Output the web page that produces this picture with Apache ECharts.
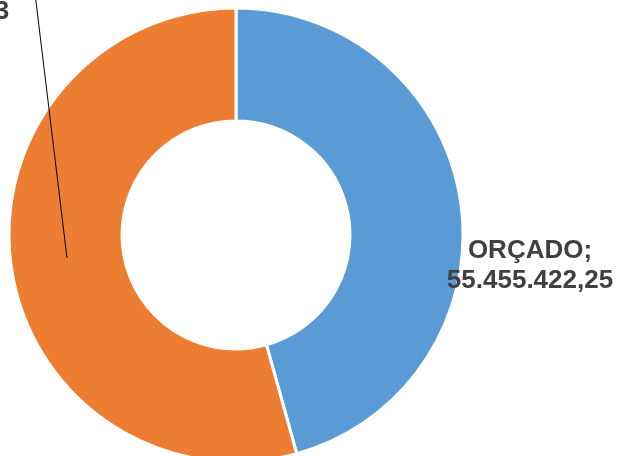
<!DOCTYPE html>
<html>
<head>
<meta charset="utf-8">
<script src="https://cdn.jsdelivr.net/npm/echarts@6/dist/echarts.min.js"></script>
<style>
html,body{margin:0;padding:0;background:#fff;}
#chart{width:619px;height:456px;}
</style>
</head>
<body>
<div id="chart"></div>
<script>
const categories = ['ORÇADO', 'REALIZADO'];
const values = [55455422.25, 65914706.43];
const colors = ['#5B9BD5', '#ED7D31'];

function fmtBR(v) {
  const parts = v.toFixed(2).split('.');
  const intPart = parts[0].replace(/\B(?=(\d{3})+(?!\d))/g, '.');
  return intPart + ',' + parts[1];
}

const labelStyle = {
  show: true,
  position: 'outside',
  formatter: p => p.name + ';\n' + fmtBR(p.value),
  fontFamily: 'Liberation Sans, Arial, sans-serif',
  fontWeight: 'bold',
  fontSize: 26,
  lineHeight: 30,
  color: '#404040',
  align: 'center'
};

const chart = echarts.init(document.getElementById('chart'), null, {renderer: 'canvas'});
chart.setOption({
  animation: false,
  backgroundColor: '#ffffff',
  series: [{
    type: 'pie',
    z: 2,
    center: [236, 235],
    radius: [114, 227],
    startAngle: 90,
    clockwise: true,
    avoidLabelOverlap: false,
    emphasis: {disabled: true},
    itemStyle: {borderColor: '#ffffff', borderWidth: 3},
    label: labelStyle,
    labelLine: {show: false},
    labelLayout: function () {
      return {x: 530, y: 266, align: 'center', verticalAlign: 'middle'};
    },
    data: categories.map((c, i) => ({
      name: c,
      value: values[i],
      itemStyle: {color: colors[i]},
      label: {show: i === 0}
    }))
  }, {
    type: 'pie',
    z: 5,
    silent: true,
    center: [236, 235],
    radius: [114, 227],
    startAngle: 90,
    clockwise: true,
    avoidLabelOverlap: false,
    emphasis: {disabled: true},
    itemStyle: {color: 'rgba(0,0,0,0)', borderWidth: 0},
    label: labelStyle,
    labelLine: {show: true, lineStyle: {color: '#000000', width: 1}},
    labelLayout: function () {
      return {
        x: -74, y: -3, align: 'center', verticalAlign: 'middle',
        labelLinePoints: [[67, 258], [34, -15]]
      };
    },
    data: categories.map((c, i) => ({
      name: c,
      value: values[i],
      label: {show: i === 1},
      labelLine: {show: i === 1}
    }))
  }]
});
</script>
</body>
</html>
